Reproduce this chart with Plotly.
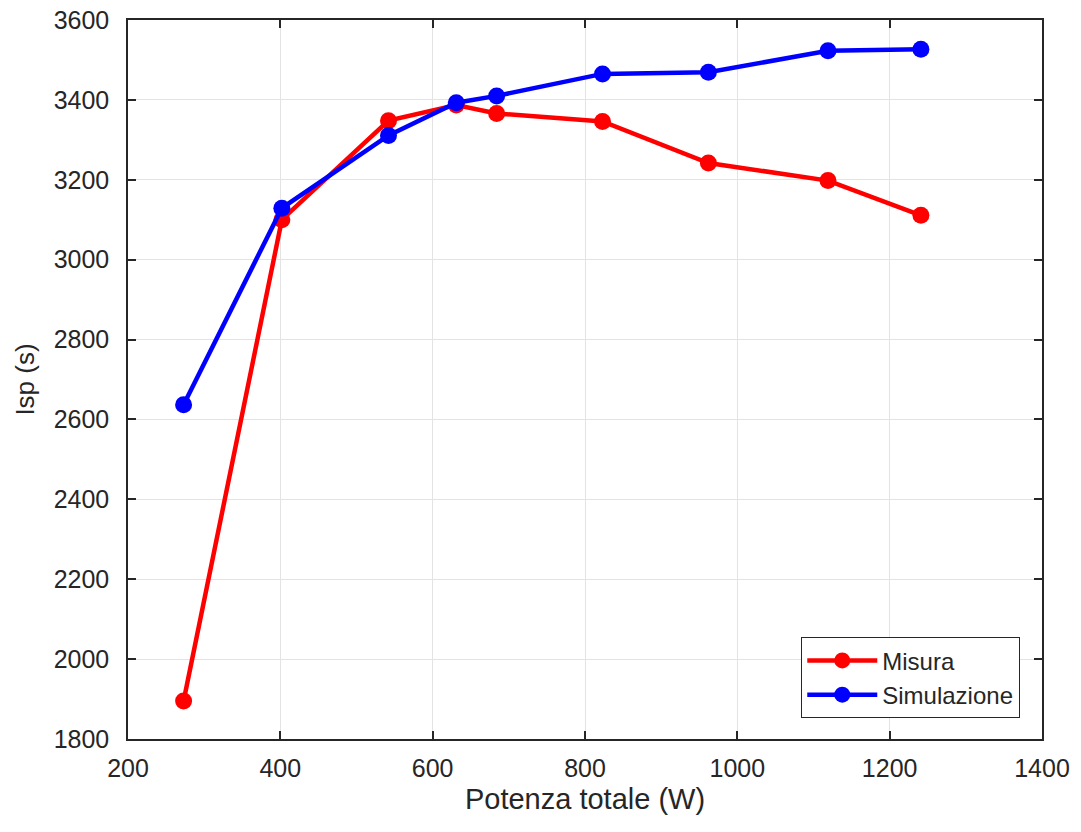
import plotly.graph_objects as go

# Potenza totale (W) per ciascun punto di lavoro
potenza = [273, 402, 542, 631, 684, 823, 962, 1119, 1241]

# Impulso specifico (s)
isp_misura = [1895, 3100, 3348, 3387, 3366, 3346, 3242, 3198, 3111]
isp_simulazione = [2637, 3129, 3311, 3393, 3410, 3465, 3469, 3523, 3527]

x_ticks = [200, 400, 600, 800, 1000, 1200, 1400]
y_ticks = [1800, 2000, 2200, 2400, 2600, 2800, 3000, 3200, 3400, 3600]

FONT = "Liberation Sans, Arial, sans-serif"
TEXT = "#262626"

fig = go.Figure()
fig.add_trace(go.Scatter(
    x=potenza, y=isp_misura, name="Misura", mode="lines+markers",
    line=dict(color="#ff0000", width=4.5),
    marker=dict(color="#ff0000", size=17),
))
fig.add_trace(go.Scatter(
    x=potenza, y=isp_simulazione, name="Simulazione", mode="lines+markers",
    line=dict(color="#0000ff", width=4.5),
    marker=dict(color="#0000ff", size=17),
))

axis_common = dict(
    showgrid=True, gridcolor="#e3e3e3", gridwidth=1,
    showline=True, linecolor=TEXT, linewidth=1.5, mirror="ticks",
    ticks="inside", ticklen=8, tickwidth=1.5, tickcolor=TEXT,
    tickfont=dict(family=FONT, size=25, color=TEXT),
    zeroline=False, automargin=False,
)

fig.update_xaxes(
    range=[200, 1400], tickvals=x_ticks,
    title=dict(text="Potenza totale (W)", font=dict(family=FONT, size=29, color=TEXT), standoff=8),
    ticklabelstandoff=6,
    **axis_common,
)
fig.update_yaxes(
    range=[1800, 3600], tickvals=y_ticks,
    title=dict(text="Isp (s)", font=dict(family=FONT, size=26, color=TEXT), standoff=12),
    ticklabelstandoff=12,
    **axis_common,
)

fig.update_layout(
    width=1081, height=832,
    margin=dict(l=128, r=39, t=20, b=93, autoexpand=False),
    paper_bgcolor="white", plot_bgcolor="white",
    showlegend=True,
    legend=dict(
        x=0.976, y=0.029, xanchor="right", yanchor="bottom",
        bgcolor="white", bordercolor=TEXT, borderwidth=1.2,
        font=dict(family=FONT, size=24, color=TEXT),
        itemwidth=70, tracegroupgap=0,
    ),
)

fig.write_html("out.html")
